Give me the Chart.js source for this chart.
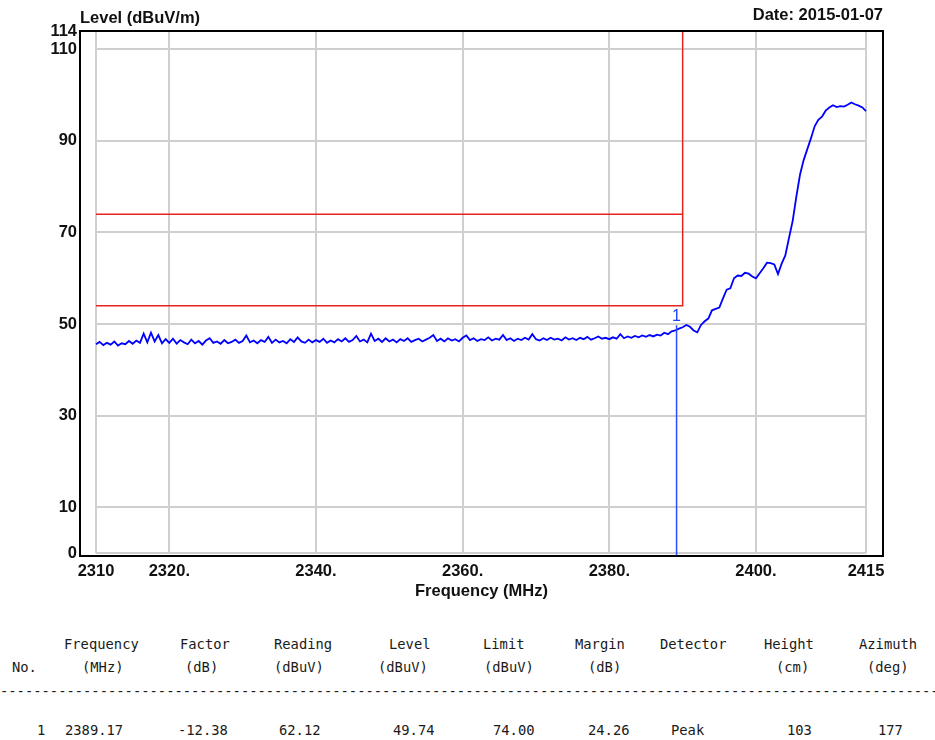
<!DOCTYPE html>
<html lang="en">
<head>
<meta charset="UTF-8">
<title>Level (dBuV/m) vs Frequency</title>
<script src="https://cdn.jsdelivr.net/npm/chart.js"></script>
<style>
  body { margin: 0; background: #fff; width: 935px; height: 740px; position: relative; overflow: hidden; }
  #chart { position: absolute; left: 0; top: 0; }
  .cell {
    position: absolute;
    font-family: "DejaVu Sans Mono", monospace;
    font-size: 13.8px;
    line-height: 16px;
    color: #1a1a1a;
    white-space: pre;
  }
</style>
</head>
<body>
<canvas id="chart" width="935" height="610"></canvas>
<div id="table"></div>
<script>
// sweep: 2310 .. 2415 MHz, one reading every 0.5 MHz
const freqStart = 2310;
const freqStep = 0.5;
const levels = [
  45.6, 46.1, 45.4, 45.9, 45.5, 46.2, 45.3, 45.8, 45.6, 46.3,
  45.7, 46.4, 45.9, 47.9, 46.0, 48.1, 46.2, 47.6, 45.8, 46.7,
  45.9, 46.8, 45.7, 46.5, 46.0, 45.6, 46.6, 45.8, 46.3, 45.5,
  46.4, 46.9, 45.9, 46.2, 45.7, 46.5, 45.8, 46.1, 46.6, 45.9,
  46.3, 47.5, 46.0, 46.4, 45.8, 46.5, 46.1, 47.2, 45.9, 46.6,
  46.0, 46.3, 45.8, 46.7, 46.1, 47.1, 46.2, 45.9, 46.6, 46.0,
  46.5, 46.1, 46.8, 45.9, 46.4, 46.0, 46.7, 46.2, 46.9, 46.1,
  46.5, 47.4, 46.2, 46.6, 46.0, 47.9, 46.3, 46.8, 46.1, 46.9,
  46.2, 46.6, 46.0, 46.7, 46.3, 46.9, 46.1, 46.5, 46.8, 46.2,
  46.6, 47.0, 47.6, 46.3, 46.8, 46.2, 46.9, 46.4, 46.7, 46.2,
  47.0, 47.5, 46.5, 46.9, 46.3, 46.7, 46.5, 47.1, 46.4, 46.8,
  46.6, 47.6, 46.5, 46.9, 46.3, 46.8, 46.5, 47.0, 46.6, 47.8,
  46.7, 46.4, 46.9, 46.5, 47.0, 46.6, 46.8, 46.4, 47.1, 46.6,
  46.9, 46.5, 47.0, 46.7, 47.2, 46.6, 46.9, 47.3, 46.8, 47.0,
  46.7, 47.1, 46.8, 47.8, 46.9, 47.3, 47.0, 47.4, 47.1, 47.5,
  47.2, 47.6, 47.3, 47.7, 47.5, 48.1, 47.8, 48.4, 48.6, 49.0,
  49.3, 49.8, 49.4, 48.6, 48.2, 49.8, 50.6, 51.2, 53.0, 53.3,
  53.6, 55.6, 57.5, 57.8, 60.0, 60.6, 60.5, 61.2, 61.0, 60.4,
  60.0, 61.1, 62.2, 63.4, 63.3, 63.0, 60.9, 63.2, 65.0, 68.8,
  72.5, 77.8, 82.6, 85.8, 88.2, 90.6, 93.2, 94.6, 95.3, 96.6,
  97.3, 97.8, 97.4, 97.6, 97.5, 97.9, 98.4, 98.0, 97.7, 97.3,
  96.5
];

// limit lines
const limitUpper = 74;
const limitLower = 54;
const limitStart = 2310;
const limitEnd = 2390;
const yTop = 114;

// marker 1
const markerFreq = 2389.17;
const markerLevel = 49.74;

// axes
const xTicks = [2310, 2320, 2340, 2360, 2380, 2400, 2415];
const xTickLabels = ['2310', '2320.', '2340.', '2360.', '2380.', '2400.', '2415'];
const yTicks = [0, 10, 30, 50, 70, 90, 110, 114];
const yTickLabels = ['0', '10', '30', '50', '70', '90', '110', '114'];
const yGrid = [0, 10, 30, 50, 70, 90, 110];

const chartDate = 'Date: 2015-01-07';

// table under the chart
const colNames = ['', 'Frequency', 'Factor', 'Reading', 'Level', 'Limit', 'Margin', 'Detector', 'Height', 'Azimuth'];
const colUnits = ['No.', '(MHz)', '(dB)', '(dBuV)', '(dBuV)', '(dBuV)', '(dB)', '', '(cm)', '(deg)'];
const rowValues = ['1', '2389.17', '-12.38', '62.12', '49.74', '74.00', '24.26', 'Peak', '103', '177'];

// where table text sits (px)
const nameLeft = [0, 64, 180, 274, 389, 483, 575, 660, 764, 859];
const unitLeft = [12, 82, 185, 274, 378, 484, 588, 0, 776, 867];
const valueLeft = [37, 65, 178, 279, 393, 493, 588, 671, 787, 878];

const tracePoints = levels.map((v, i) => ({ x: freqStart + i * freqStep, y: v }));

const labelFont = { family: 'Liberation Sans', size: 16.5, weight: 'bold' };

// grid box, frame and free text
const decor = {
  id: 'decor',
  beforeDatasetsDraw(chart) {
    const { ctx } = chart;
    const xs = chart.scales.x, ys = chart.scales.y;
    const x0 = xs.getPixelForValue(xTicks[0]);
    const x1 = xs.getPixelForValue(xTicks[xTicks.length - 1]);
    const yb = ys.getPixelForValue(yGrid[0]);
    const yt = chart.chartArea.top;
    ctx.save();
    ctx.strokeStyle = '#cfcfcf';
    ctx.lineWidth = 2;
    ctx.beginPath();
    xTicks.forEach(v => {
      const px = Math.round(xs.getPixelForValue(v));
      ctx.moveTo(px, yt);
      ctx.lineTo(px, yb);
    });
    yGrid.forEach(v => {
      const py = Math.round(ys.getPixelForValue(v));
      ctx.moveTo(x0, py);
      ctx.lineTo(x1, py);
    });
    ctx.stroke();
    ctx.restore();
  },
  afterDraw(chart) {
    const { ctx, chartArea: a } = chart;
    const xs = chart.scales.x, ys = chart.scales.y;
    ctx.save();
    ctx.strokeStyle = '#000';
    ctx.lineWidth = 2;
    ctx.strokeRect(a.left, a.top, a.right - a.left, a.bottom - a.top);

    ctx.fillStyle = '#111';
    ctx.font = 'bold 16.5px "Liberation Sans"';
    ctx.textBaseline = 'middle';
    ctx.textAlign = 'left';
    ctx.fillText('Level (dBuV/m)', a.left, 18);
    ctx.textAlign = 'right';
    ctx.fillText(chartDate, a.right, 15);
    ctx.textAlign = 'center';
    ctx.fillText('Frequency (MHz)', (a.left + a.right) / 2, 591);

    ctx.fillStyle = '#2040ff';
    ctx.font = '16px "Liberation Sans"';
    ctx.fillText('1', xs.getPixelForValue(markerFreq), ys.getPixelForValue(markerLevel) - 9);
    ctx.restore();
  }
};

new Chart(document.getElementById('chart'), {
  type: 'line',
  data: {
    datasets: [
      {
        label: 'Marker',
        data: [{ x: markerFreq, y: markerLevel }, { x: markerFreq, y: -1 }],
        borderColor: '#2a4bff',
        borderWidth: 1.5
      },
      {
        label: 'Level',
        data: tracePoints,
        borderColor: '#0000ff',
        borderWidth: 1.8
      },
      {
        label: 'Limit upper',
        data: [{ x: limitStart, y: limitUpper }, { x: limitEnd, y: limitUpper }],
        borderColor: '#e8231f',
        borderWidth: 1.5
      },
      {
        label: 'Limit lower',
        data: [{ x: limitStart, y: limitLower }, { x: limitEnd, y: limitLower }, { x: limitEnd, y: yTop }],
        borderColor: '#e8231f',
        borderWidth: 1.5
      }
    ]
  },
  options: {
    responsive: false,
    animation: false,
    parsing: false,
    layout: { padding: { left: 0, top: 31, right: 52, bottom: 0 } },
    elements: { point: { radius: 0 }, line: { tension: 0 } },
    plugins: { legend: { display: false }, tooltip: { enabled: false } },
    scales: {
      x: {
        type: 'linear',
        min: 2307.82,
        max: 2417.32,
        afterBuildTicks: s => { s.ticks = xTicks.map(v => ({ value: v })); },
        afterFit: s => { s.height = 54; },
        grid: { display: false, drawTicks: false },
        border: { display: false },
        ticks: {
          autoSkip: false,
          maxRotation: 0,
          padding: 6,
          color: '#111',
          font: labelFont,
          callback: v => xTickLabels[xTicks.indexOf(v)]
        }
      },
      y: {
        type: 'linear',
        min: -0.655,
        max: 114,
        afterBuildTicks: s => { s.ticks = yTicks.map(v => ({ value: v })); },
        afterFit: s => { s.width = 80; },
        grid: { display: false, drawTicks: false },
        border: { display: false },
        ticks: {
          autoSkip: false,
          padding: 3,
          color: '#111',
          font: labelFont,
          callback: v => yTickLabels[yTicks.indexOf(v)]
        }
      }
    }
  },
  plugins: [decor]
});

// table
const table = document.getElementById('table');
function put(text, left, top) {
  if (!text) return;
  const d = document.createElement('div');
  d.className = 'cell';
  d.style.left = left + 'px';
  d.style.top = top + 'px';
  d.textContent = text;
  table.appendChild(d);
}
colNames.forEach((t, i) => put(t, nameLeft[i], 636));
colUnits.forEach((t, i) => put(t, unitLeft[i], 659));
put('-'.repeat(120), 0, 683);
rowValues.forEach((t, i) => put(t, valueLeft[i], 722));
</script>
</body>
</html>
